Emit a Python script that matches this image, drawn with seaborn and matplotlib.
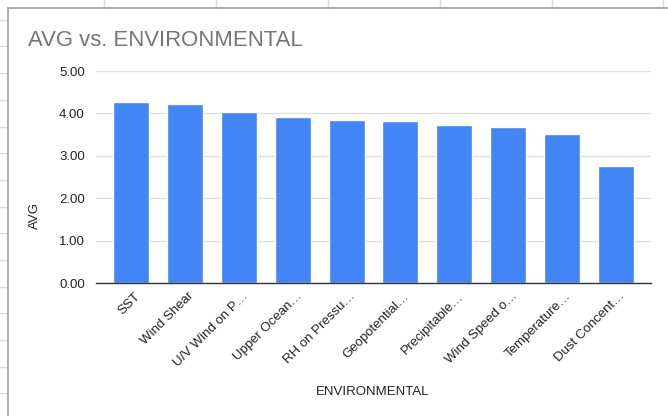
import matplotlib
matplotlib.use("Agg")
import matplotlib.pyplot as plt
import matplotlib.transforms as mtransforms
import seaborn as sns
import pandas as pd
from matplotlib.lines import Line2D

categories = ["SST", "Wind Shear", "U/V Wind on P\u2026", "Upper Ocean\u2026",
              "RH on Pressu\u2026", "Geopotential\u2026", "Precipitable\u2026",
              "Wind Speed o\u2026", "Temperature\u2026", "Dust Concent\u2026"]
avg = [4.27, 4.21, 4.04, 3.92, 3.85, 3.82, 3.72, 3.69, 3.51, 2.77]
yticks = [0, 1, 2, 3, 4, 5]
ytick_labels = ["0.00", "1.00", "2.00", "3.00", "4.00", "5.00"]

sns.set_style("white")
plt.rcParams["font.family"] = ["Liberation Sans", "DejaVu Sans"]

W, H = 668, 416
fig = plt.figure(figsize=(W / 100, H / 100), dpi=100)
fig.patch.set_facecolor("white")

# spreadsheet background lines
for x in [104, 216, 328, 440, 552, 663]:
    fig.add_artist(Line2D([x / W, x / W], [1, 1 - 8 / H], color="#d9d9d9", lw=1))
for y in [20, 46, 73, 100, 127, 153, 180, 207, 233, 260, 287, 313, 340, 367, 393]:
    fig.add_artist(Line2D([0, 7 / W], [1 - y / H, 1 - y / H], color="#d9d9d9", lw=1))
# chart border
fig.add_artist(Line2D([8 / W, 8 / W], [0, 1 - 8 / H], color="#9e9e9e", lw=1.2))
fig.add_artist(Line2D([8 / W, 1], [1 - 8 / H, 1 - 8 / H], color="#9e9e9e", lw=1.2))

left, right = 96, 651
top, bottom = 71, 283
ax = fig.add_axes([left / W, 1 - bottom / H, (right - left) / W, (bottom - top) / H])

df = pd.DataFrame({"ENVIRONMENTAL": categories, "AVG": avg})
sns.barplot(data=df, x="ENVIRONMENTAL", y="AVG", color="#4285F4", saturation=1,
            width=0.67, ax=ax, zorder=3)

ax.set_ylim(0, 5)
ax.set_xlim(-0.65, len(categories) - 0.35)
ax.set_yticks(yticks)
ax.set_yticklabels(ytick_labels, fontsize=9.5, color="#222222")
ax.yaxis.grid(True, color="#e0e0e0", lw=1, zorder=0)
ax.set_axisbelow(True)
for s in ["top", "right", "left"]:
    ax.spines[s].set_visible(False)
ax.spines["bottom"].set_color("#333333")
ax.spines["bottom"].set_linewidth(1)
ax.spines["bottom"].set_zorder(4)
ax.tick_params(axis="both", length=0, pad=8)
ax.set_xticks(range(len(categories)))
ax.set_xticklabels(categories, rotation=45, ha="right", rotation_mode="anchor",
                   fontsize=9.5, color="#222222")
ax.tick_params(axis="x", pad=5)
offset = mtransforms.ScaledTranslation(3 / 100, 0, fig.dpi_scale_trans)
for lbl in ax.get_xticklabels():
    lbl.set_transform(lbl.get_transform() + offset)
ax.set_xlabel("ENVIRONMENTAL", fontsize=9.5, color="#222222", labelpad=0)
ax.xaxis.set_label_coords((373 - left) / (right - left), -(392 - bottom) / (bottom - top))
ax.xaxis.label.set_va("center")
ax.set_ylabel("AVG", fontsize=9.5, color="#222222")
ax.yaxis.set_label_coords(-(96 - 35) / (right - left), 0.32)
ax.yaxis.label.set_va("center")

fig.text(28 / W, 1 - 40 / H, "AVG vs. ENVIRONMENTAL", fontsize=15.9, color="#757575",
         va="center", ha="left")

fig.savefig("out.png", dpi=100)
